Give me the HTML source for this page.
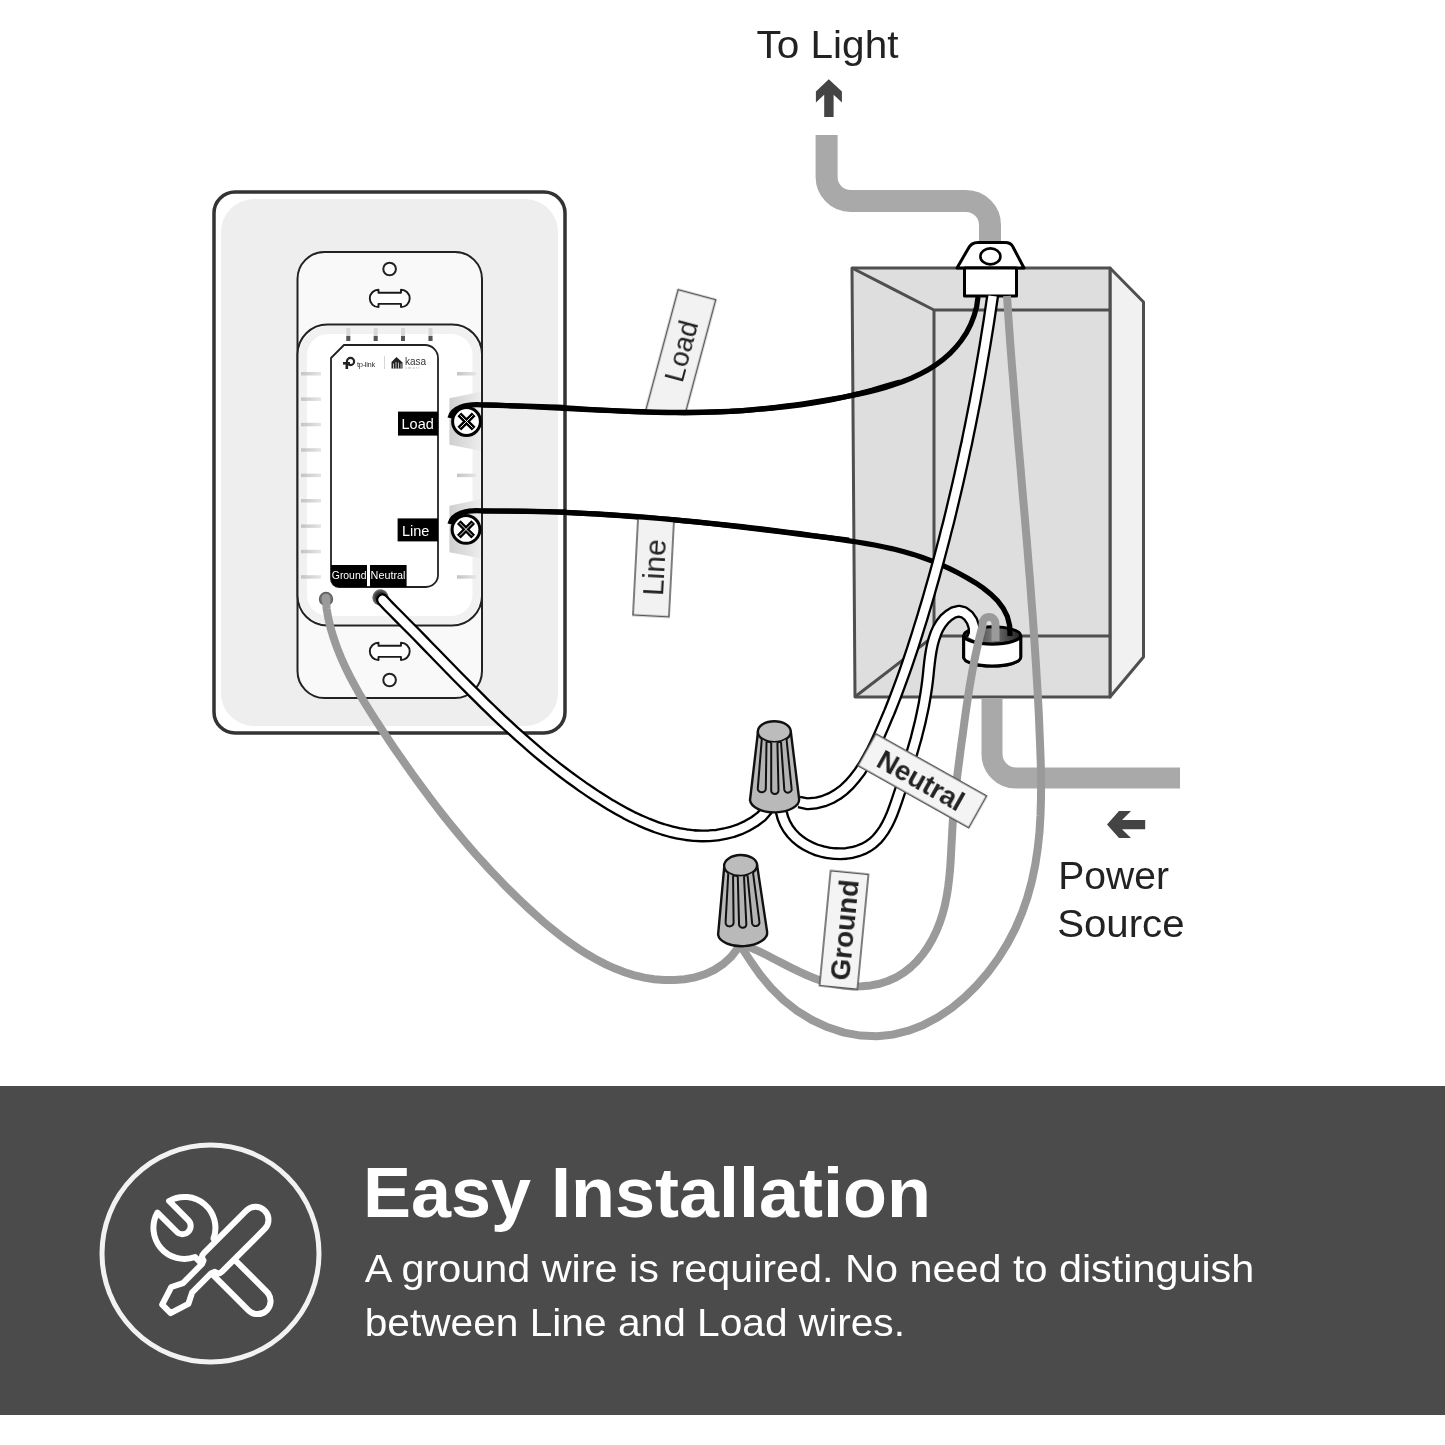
<!DOCTYPE html>
<html>
<head>
<meta charset="utf-8">
<style>
html,body{margin:0;padding:0;background:#fff;}
body{width:1445px;height:1445px;overflow:hidden;position:relative;font-family:"Liberation Sans",sans-serif;}
svg{position:absolute;left:0;top:0;display:block;will-change:transform;}
</style>
</head>
<body>
<svg width="1445" height="1445" viewBox="0 0 1445 1445" font-family="Liberation Sans, sans-serif">
<defs>
  <clipPath id="clipLoad"><rect x="600" y="250" width="150" height="162"/></clipPath>
  <linearGradient id="shade" x1="0" y1="0" x2="1" y2="0">
    <stop offset="0" stop-color="#cfcfcf"/>
    <stop offset="1" stop-color="#ececec"/>
  </linearGradient>
  <linearGradient id="tick" x1="0" y1="0" x2="1" y2="0">
    <stop offset="0" stop-color="#c4c4c4"/>
    <stop offset="1" stop-color="#e6e6e6"/>
  </linearGradient>
  <radialGradient id="holeN" cx="0.5" cy="0.5" r="0.5">
    <stop offset="0.6" stop-color="#333"/>
    <stop offset="1" stop-color="#777"/>
  </radialGradient>
  <radialGradient id="holeG" cx="0.5" cy="0.5" r="0.5">
    <stop offset="0.55" stop-color="#888"/>
    <stop offset="1" stop-color="#555"/>
  </radialGradient>
  <linearGradient id="ringin" x1="0" y1="0" x2="1" y2="0">
    <stop offset="0" stop-color="#222"/>
    <stop offset="0.5" stop-color="#777"/>
    <stop offset="1" stop-color="#222"/>
  </linearGradient>
</defs>

<!-- ===== TOP CONDUIT ===== -->
<path d="M826.6,135 V177 A24,24 0 0 0 850.6,201 H966 A24,24 0 0 1 990,225 V250" fill="none" stroke="#a9a9a9" stroke-width="22"/>

<!-- ===== BOX ===== -->
<g stroke="#4f4f4f" stroke-width="3" stroke-linejoin="round">
  <polygon points="1110,268 1143.5,302 1143.5,657 1110,697" fill="#f1f1f1"/>
  <polygon points="852,268 1110,268 1110,697 855,697" fill="#dedede"/>
  <polyline points="852,268 934,310 1110,310" fill="none"/>
  <polyline points="934,310 934,636" fill="none"/>
  <polyline points="856,696 934,636 1110,636" fill="none"/>
</g>

<!-- bottom conduit -->
<path d="M992,698 V754 A24,24 0 0 0 1016,778 H1180" fill="none" stroke="#a9a9a9" stroke-width="21"/>

<!-- connector top -->
<g stroke="#000" stroke-width="3" stroke-linejoin="round">
  <path d="M957,268 L968,249 Q971,242.5 978,242.5 H1005 Q1011,242.5 1013,247 L1024,268 Z" fill="#fff"/>
  <ellipse cx="990.4" cy="256.4" rx="10" ry="8" fill="#fff" stroke-width="2.6"/>
  <rect x="964.5" y="268" width="52" height="28" fill="#fff"/>
</g>

<!-- ring bottom (back part) -->
<g stroke="#000" stroke-width="3">
  <path d="M963.7,635.5 V657.3 A28.5,8.7 0 0 0 1020.7,657.3 V635.5" fill="#fff"/>
  <ellipse cx="992.2" cy="635.5" rx="28.5" ry="8.7" fill="url(#ringin)"/>
</g>

<!-- wires inside box -->
<!-- load black -->
<path d="M450,418 C452,408 466,403.5 482,404.8 L482.0,404.8 L491.2,404.9 L500.3,405.1 L509.5,405.3 L518.7,405.7 L527.9,406.0 L537.1,406.5 L546.3,406.9 L555.5,407.4 L564.7,407.9 L574.0,408.4 L583.2,409.0 L592.4,409.5 L601.6,410.0 L610.9,410.5 L620.1,411.0 L629.3,411.4 L638.6,411.8 L647.8,412.1 L657.0,412.4 L666.2,412.6 L675.4,412.7 L684.6,412.8 L693.8,412.7 L702.9,412.5 L712.1,412.2 L721.2,411.8 L730.4,411.4 L739.5,410.8 L748.6,410.1 L757.8,409.2 L766.9,408.3 L776.0,407.3 L785.1,406.2 L794.3,405.0 L803.4,403.8 L812.5,402.4 L821.7,400.9 L830.8,399.4 L840.0,397.7 L849.1,396.0 L858.3,394.1 L867.4,392.1 L876.4,389.9 L885.4,387.4 L894.2,384.6 L902.9,381.5 L911.5,378.1 L919.8,374.2 L927.8,369.9 L935.5,365.0 L942.8,359.7 L949.6,353.8 L955.8,347.3 L961.5,340.3 L966.5,332.7 L970.7,324.5 L974.1,315.7 L976.7,306.4 L978.0,297.0" fill="none" stroke="#000" stroke-width="5.2"/>
<!-- line black -->
<path d="M450,524 C452,514 466,509.5 482,510.8 L482.0,510.8 L491.7,510.9 L501.4,511.0 L511.1,511.1 L520.7,511.2 L530.4,511.4 L540.1,511.7 L549.7,512.0 L559.3,512.3 L569.0,512.7 L578.6,513.2 L588.2,513.7 L597.9,514.2 L607.5,514.8 L617.1,515.4 L626.7,516.1 L636.3,516.8 L645.9,517.5 L655.6,518.3 L665.2,519.1 L674.8,519.9 L684.4,520.8 L694.0,521.7 L703.7,522.6 L713.3,523.6 L722.9,524.6 L732.6,525.6 L742.2,526.7 L751.8,527.8 L761.4,528.9 L771.1,530.1 L780.7,531.3 L790.3,532.5 L799.9,533.7 L809.4,535.0 L819.0,536.4 L828.5,537.7 L838.0,539.1 L847.5,540.6 L857.0,542.0 L866.5,543.6 L875.9,545.3 L885.3,547.2 L894.6,549.3 L904.0,551.7 L913.3,554.4 L922.5,557.5 L931.6,560.9 L940.7,564.6 L949.6,568.6 L958.3,573.0 L966.9,577.7 L975.3,582.7 L983.3,588.1 L990.8,594.1 L997.5,600.7 L1003.1,608.1 L1007.3,616.4 L1009.7,625.8 L1010.0,636.0" fill="none" stroke="#000" stroke-width="5.2"/>
<!-- gray 2 from connector -->
<path d="M1007.0,296.0 L1008.1,313.0 L1009.3,329.9 L1010.5,346.8 L1011.8,363.6 L1013.2,380.4 L1014.5,397.2 L1015.9,413.9 L1017.3,430.6 L1018.7,447.3 L1020.2,463.9 L1021.6,480.6 L1023.0,497.2 L1024.5,513.8 L1025.9,530.4 L1027.3,547.0 L1028.6,563.6 L1030.0,580.2 L1031.2,596.8 L1032.5,613.5 L1033.7,630.1 L1034.8,646.8 L1035.9,663.5 L1036.9,680.2 L1037.9,697.0 L1038.8,713.8 L1039.5,730.7 L1040.2,747.6 L1040.8,764.5 L1041.1,781.4 L1041.0,798.4 L1040.5,815.2 L1039.5,832.0 L1037.7,848.6 L1035.2,865.1 L1031.8,881.4 L1027.4,897.4 L1021.9,913.2 L1015.2,928.8 L1007.3,943.9 L998.2,958.5 L988.0,972.4 L976.8,985.4 L964.6,997.4 L951.7,1008.0 L937.9,1017.3 L923.5,1024.9 L908.5,1030.7 L892.9,1034.6 L877.0,1036.3 L860.6,1035.6 L844.1,1032.6 L827.8,1027.3 L812.0,1020.0 L797.1,1010.8 L783.5,1000.1 L771.3,988.1 L760.4,975.1 L750.9,961.6 L742.0,948.0" fill="none" stroke="#9a9a9a" stroke-width="8" stroke-linejoin="round"/>
<!-- white B loop -->
<path d="M972.0,639.0 L974.3,633.8 L974.1,627.5 L972.0,621.2 L968.4,615.8 L963.8,612.3 L958.6,611.2 L953.5,612.5 L948.7,615.5 L944.6,619.2 L941.2,623.4 L938.3,628.1 L936.0,633.1 L934.1,638.6 L932.5,644.3 L931.3,650.2 L930.3,656.4 L929.5,662.6 L928.8,668.9 L928.2,675.1 L927.5,681.3 L926.7,687.4 L925.8,693.4 L924.8,699.3 L923.8,705.1 L922.6,710.8 L921.4,716.5 L920.2,722.1 L918.8,727.7 L917.4,733.2 L916.0,738.8 L914.4,744.3 L912.8,749.9 L911.2,755.4 L909.5,761.0 L907.8,766.6 L906.0,772.3 L904.2,778.0 L902.4,783.8 L900.5,789.7 L898.5,795.7 L896.5,801.7 L894.4,807.7 L892.2,813.6 L889.7,819.3 L887.0,824.8 L884.0,830.0 L880.6,834.8 L876.9,839.2 L872.8,843.0 L868.2,846.3 L863.2,848.9 L857.8,851.0 L852.2,852.5 L846.4,853.4 L840.4,853.8 L834.4,853.6 L828.3,852.9 L822.4,851.6 L816.5,849.9 L810.9,847.6 L805.5,844.8 L800.5,841.5 L795.9,837.7 L791.8,833.5 L788.2,828.8 L785.2,823.6 L782.9,818.0 L781.3,812.0 L780.0,806.0" fill="none" stroke="#000" stroke-width="13" stroke-linejoin="round"/>
<path d="M972.0,639.0 L974.3,633.8 L974.1,627.5 L972.0,621.2 L968.4,615.8 L963.8,612.3 L958.6,611.2 L953.5,612.5 L948.7,615.5 L944.6,619.2 L941.2,623.4 L938.3,628.1 L936.0,633.1 L934.1,638.6 L932.5,644.3 L931.3,650.2 L930.3,656.4 L929.5,662.6 L928.8,668.9 L928.2,675.1 L927.5,681.3 L926.7,687.4 L925.8,693.4 L924.8,699.3 L923.8,705.1 L922.6,710.8 L921.4,716.5 L920.2,722.1 L918.8,727.7 L917.4,733.2 L916.0,738.8 L914.4,744.3 L912.8,749.9 L911.2,755.4 L909.5,761.0 L907.8,766.6 L906.0,772.3 L904.2,778.0 L902.4,783.8 L900.5,789.7 L898.5,795.7 L896.5,801.7 L894.4,807.7 L892.2,813.6 L889.7,819.3 L887.0,824.8 L884.0,830.0 L880.6,834.8 L876.9,839.2 L872.8,843.0 L868.2,846.3 L863.2,848.9 L857.8,851.0 L852.2,852.5 L846.4,853.4 L840.4,853.8 L834.4,853.6 L828.3,852.9 L822.4,851.6 L816.5,849.9 L810.9,847.6 L805.5,844.8 L800.5,841.5 L795.9,837.7 L791.8,833.5 L788.2,828.8 L785.2,823.6 L782.9,818.0 L781.3,812.0 L780.0,806.0" fill="none" stroke="#fff" stroke-width="8.4" stroke-linejoin="round"/>
<!-- white A -->
<path d="M992.6,296.0 L991.4,304.2 L990.2,312.3 L989.0,320.5 L987.7,328.6 L986.4,336.7 L985.1,344.8 L983.7,353.0 L982.3,361.1 L980.9,369.2 L979.5,377.3 L978.0,385.5 L976.5,393.6 L975.0,401.7 L973.4,409.8 L971.8,417.9 L970.2,426.0 L968.5,434.2 L966.9,442.3 L965.1,450.3 L963.4,458.4 L961.6,466.5 L959.8,474.6 L958.0,482.7 L956.1,490.7 L954.2,498.8 L952.3,506.8 L950.4,514.8 L948.4,522.9 L946.3,530.9 L944.3,538.9 L942.2,546.9 L940.1,554.8 L938.0,562.8 L935.8,570.7 L933.6,578.7 L931.3,586.6 L929.1,594.5 L926.8,602.4 L924.4,610.2 L922.1,618.1 L919.6,625.9 L917.2,633.8 L914.7,641.6 L912.2,649.4 L909.6,657.1 L907.0,664.9 L904.3,672.7 L901.5,680.4 L898.6,688.2 L895.7,696.0 L892.7,703.7 L889.6,711.5 L886.3,719.2 L883.0,727.0 L879.6,734.8 L876.0,742.6 L872.3,750.3 L868.3,757.7 L864.1,765.0 L859.6,771.9 L854.7,778.3 L849.5,784.2 L843.9,789.6 L837.8,794.2 L831.1,798.1 L824.0,801.0 L816.2,803.0 L807.8,803.8 L799.0,802.0" fill="none" stroke="#000" stroke-width="13" stroke-linejoin="round"/>
<path d="M992.6,296.0 L991.4,304.2 L990.2,312.3 L989.0,320.5 L987.7,328.6 L986.4,336.7 L985.1,344.8 L983.7,353.0 L982.3,361.1 L980.9,369.2 L979.5,377.3 L978.0,385.5 L976.5,393.6 L975.0,401.7 L973.4,409.8 L971.8,417.9 L970.2,426.0 L968.5,434.2 L966.9,442.3 L965.1,450.3 L963.4,458.4 L961.6,466.5 L959.8,474.6 L958.0,482.7 L956.1,490.7 L954.2,498.8 L952.3,506.8 L950.4,514.8 L948.4,522.9 L946.3,530.9 L944.3,538.9 L942.2,546.9 L940.1,554.8 L938.0,562.8 L935.8,570.7 L933.6,578.7 L931.3,586.6 L929.1,594.5 L926.8,602.4 L924.4,610.2 L922.1,618.1 L919.6,625.9 L917.2,633.8 L914.7,641.6 L912.2,649.4 L909.6,657.1 L907.0,664.9 L904.3,672.7 L901.5,680.4 L898.6,688.2 L895.7,696.0 L892.7,703.7 L889.6,711.5 L886.3,719.2 L883.0,727.0 L879.6,734.8 L876.0,742.6 L872.3,750.3 L868.3,757.7 L864.1,765.0 L859.6,771.9 L854.7,778.3 L849.5,784.2 L843.9,789.6 L837.8,794.2 L831.1,798.1 L824.0,801.0 L816.2,803.0 L807.8,803.8 L799.0,802.0" fill="none" stroke="#fff" stroke-width="8.4" stroke-linejoin="round"/>

<!-- ring front rim -->
<g stroke="#000" stroke-width="3">
  <path d="M963.7,635.5 A28.5,8.7 0 0 0 1020.7,635.5 V657.3 A28.5,8.7 0 0 1 963.7,657.3 Z" fill="#fff"/>
</g>
<!-- gray 1 loop -->
<path d="M995.5,641 L995.5,624 A6.5,7 0 0 0 982.5,624 L982.5,626.0 L980.2,634.8 L978.1,643.5 L976.1,652.4 L974.2,661.3 L972.5,670.2 L970.9,679.2 L969.4,688.2 L968.0,697.2 L966.6,706.2 L965.3,715.2 L964.1,724.2 L962.9,733.2 L961.6,742.2 L960.4,751.1 L959.3,760.0 L958.1,769.0 L957.0,777.9 L956.0,786.8 L955.0,795.8 L954.2,804.8 L953.4,813.8 L952.7,822.9 L952.2,832.1 L951.7,841.3 L951.2,850.5 L950.7,859.7 L950.1,869.0 L949.2,878.1 L948.1,887.3 L946.7,896.3 L944.9,905.2 L942.6,914.0 L939.8,922.6 L936.4,931.1 L932.4,939.3 L927.8,947.1 L922.6,954.5 L916.8,961.3 L910.4,967.5 L903.5,972.9 L896.1,977.4 L888.0,981.0 L879.6,983.7 L870.8,985.4 L861.7,986.3 L852.5,986.4 L843.2,985.6 L834.0,984.1 L825.0,981.9 L816.2,979.0 L807.6,975.5 L799.1,971.7 L790.8,967.6 L782.6,963.4 L774.5,959.2 L766.5,955.0 L758.5,951.1 L750.6,947.6 L742.0,945.0" fill="none" stroke="#9a9a9a" stroke-width="8" stroke-linejoin="round"/>

<!-- ===== WALL PLATE ===== -->
<rect x="214" y="192" width="351" height="541" rx="21" fill="#fff" stroke="#333" stroke-width="3.5"/>
<rect x="221" y="199" width="337" height="527" rx="33" fill="#eeeeee"/>
<!-- switch body -->
<rect x="297.5" y="252" width="184.5" height="446" rx="27" fill="#f9f9f9" stroke="#222" stroke-width="2"/>
<!-- top hole & slot -->
<circle cx="389.6" cy="269" r="6.3" fill="#fff" stroke="#222" stroke-width="2"/>
<path d="M378.5,289.7 V292.8 H401 V289.7 A8.7,8.7 0 0 1 401,307.1 V303.9 H378.5 V307.1 A8.7,8.7 0 0 1 378.5,289.7 Z" fill="#fff" stroke="#1a1a1a" stroke-width="1.9" stroke-linejoin="round"/>
<path d="M378.5,642.7 V645.8 H401 V642.7 A8.7,8.7 0 0 1 401,660.1 V656.9 H378.5 V660.1 A8.7,8.7 0 0 1 378.5,642.7 Z" fill="#fff" stroke="#1a1a1a" stroke-width="1.9" stroke-linejoin="round"/>
<circle cx="389.6" cy="680" r="6.3" fill="#fff" stroke="#222" stroke-width="2"/>
<!-- inner frame -->
<rect x="297.5" y="324.5" width="184.5" height="301" rx="30" fill="#fff" stroke="#222" stroke-width="2"/>
<rect x="303" y="330" width="173.5" height="290" rx="25" fill="none" stroke="#f1f1f1" stroke-width="8"/>
<!-- LED ticks -->
<g>
  <rect x="346.3" y="328" width="4" height="13" fill="#d8d8d8"/><rect x="346.3" y="336" width="4" height="5" fill="#555"/>
  <rect x="373.7" y="328" width="4" height="13" fill="#d8d8d8"/><rect x="373.7" y="336" width="4" height="5" fill="#555"/>
  <rect x="401" y="328" width="4" height="13" fill="#d8d8d8"/><rect x="401" y="336" width="4" height="5" fill="#555"/>
  <rect x="428.5" y="328" width="4" height="13" fill="#d8d8d8"/><rect x="428.5" y="336" width="4" height="5" fill="#555"/>
</g>
<!-- side ticks -->
<g fill="url(#tick)">
  <rect x="301" y="372" width="20" height="3.5"/>
  <rect x="301" y="397.4" width="20" height="3.5"/>
  <rect x="301" y="422.8" width="20" height="3.5"/>
  <rect x="301" y="448.2" width="20" height="3.5"/>
  <rect x="301" y="473.6" width="20" height="3.5"/>
  <rect x="301" y="499" width="20" height="3.5"/>
  <rect x="301" y="524.4" width="20" height="3.5"/>
  <rect x="301" y="549.8" width="20" height="3.5"/>
  <rect x="301" y="575.2" width="20" height="3.5"/>
  <rect x="457" y="372" width="19" height="3.5"/>
  <rect x="457" y="473.6" width="19" height="3.5"/>
  <rect x="457" y="575.2" width="19" height="3.5"/>
</g>
<!-- screw shading -->
<polygon points="449.4,398.3 480.6,391.8 480.6,450.8 449.4,444.7" fill="url(#shade)"/>
<polygon points="449.4,505.8 480.6,499.3 480.6,558.3 449.4,552.2" fill="url(#shade)"/>
<!-- label panel -->
<path d="M331,358 L344,345 H425 A13,13 0 0 1 438,358 V575 A12,12 0 0 1 426,587 H339 A8,8 0 0 1 331,579 Z" fill="#fff" stroke="#222" stroke-width="1.8"/>
<!-- logo -->
<g>
  <circle cx="350.5" cy="361.5" r="3.6" fill="none" stroke="#222" stroke-width="2.2"/>
  <rect x="343" y="362" width="7" height="2.6" fill="#222"/>
  <rect x="345.5" y="362" width="2.6" height="7" fill="#222"/>
  <text x="357" y="366.5" font-size="7.5" fill="#333" letter-spacing="-0.3">tp-link</text>
  <rect x="384" y="356" width="0.8" height="13" fill="#ccc"/>
  <path d="M391.5,368.5 V362 L396.5,357 L402.5,362.5 V368.5 Z" fill="#222"/>
  <path d="M393.5,368.5 V363.5 M396,368.5 V362 M398.5,368.5 V362.5 M401,368.5 V363.5" stroke="#fff" stroke-width="0.7"/>
  <text x="405" y="364.5" font-size="10" fill="#333">kasa</text>
  <text x="405.5" y="369" font-size="3" fill="#999" letter-spacing="1.6">smart</text>
</g>
<!-- labels -->
<rect x="398" y="411.6" width="40" height="24" fill="#000"/>
<text x="401.5" y="428.7" font-size="14.5" fill="#fff">Load</text>
<rect x="397.6" y="518.4" width="40.4" height="23" fill="#000"/>
<text x="402" y="535.7" font-size="14.5" fill="#fff">Line</text>
<path d="M331,565 H367 V587 H339 A8,8 0 0 1 331,579 Z" fill="#000"/>
<text x="331.8" y="579" font-size="10.4" fill="#fff">Ground</text>
<rect x="370" y="565" width="36.6" height="22" fill="#000"/>
<text x="370.6" y="579" font-size="10.8" fill="#fff">Neutral</text>
<!-- wire holes -->
<circle cx="326" cy="599" r="7.2" fill="url(#holeG)"/>
<circle cx="380.5" cy="597.5" r="8.2" fill="url(#holeN)"/>

<!-- wire around screws (redraw start over shading) -->
<path d="M450,418 C452,408 466,403.5 482,404.8 C520,406 545,406.5 566,407.5" fill="none" stroke="#000" stroke-width="5.2"/>
<path d="M450,524 C452,514 466,509.5 482,510.8 C520,511 545,511.5 566,512" fill="none" stroke="#000" stroke-width="5.2"/>
<!-- screws -->
<g>
  <circle cx="466.5" cy="421.5" r="13.9" fill="#fff" stroke="#000" stroke-width="3"/>
  <path d="M459.3,414.3 L473.7,428.7 M473.7,414.3 L459.3,428.7" stroke="#000" stroke-width="5.2"/>
  <path d="M460.3,415.3 L472.7,427.7 M472.7,415.3 L460.3,427.7" stroke="#fff" stroke-width="0.9"/>
  <circle cx="466" cy="529.4" r="13.9" fill="#fff" stroke="#000" stroke-width="3"/>
  <path d="M458.8,522.2 L473.2,536.6 M473.2,522.2 L458.8,536.6" stroke="#000" stroke-width="5.2"/>
  <path d="M459.8,523.2 L472.2,535.6 M472.2,523.2 L459.8,535.6" stroke="#fff" stroke-width="0.9"/>
</g>

<!-- wires from switch -->
<path d="M326.0,598.0 L326.6,608.6 L328.4,618.6 L330.8,628.6 L333.8,638.4 L337.2,648.2 L341.1,657.8 L345.4,667.4 L350.1,676.8 L355.1,686.2 L360.3,695.4 L365.8,704.5 L371.5,713.6 L377.2,722.6 L383.1,731.4 L388.9,740.2 L394.8,748.9 L400.8,757.5 L406.7,766.1 L412.7,774.5 L418.8,782.9 L424.9,791.2 L431.0,799.4 L437.3,807.6 L443.6,815.7 L450.0,823.7 L456.5,831.6 L463.0,839.5 L469.7,847.4 L476.5,855.1 L483.5,862.8 L490.5,870.5 L497.8,878.1 L505.1,885.7 L512.6,893.2 L520.3,900.6 L528.1,908.0 L536.1,915.3 L544.2,922.5 L552.6,929.4 L561.0,936.1 L569.7,942.5 L578.4,948.6 L587.4,954.3 L596.5,959.6 L605.7,964.3 L615.1,968.6 L624.6,972.2 L634.3,975.3 L644.1,977.6 L654.1,979.2 L664.2,980.1 L674.4,980.1 L684.7,979.3 L694.9,977.4 L704.8,974.3 L714.3,969.9 L723.1,964.1 L731.2,956.7 L738.0,948.0" fill="none" stroke="#9a9a9a" stroke-width="8" stroke-linecap="round"/>
<path d="M382.5,599.8 L387.9,605.7 L393.7,611.5 L399.5,617.3 L405.3,623.2 L411.1,629.0 L416.8,634.8 L422.5,640.6 L428.1,646.4 L433.8,652.2 L439.4,658.0 L445.0,663.7 L450.6,669.5 L456.2,675.2 L461.9,681.0 L467.5,686.6 L473.2,692.3 L478.8,697.9 L484.5,703.6 L490.2,709.1 L496.0,714.7 L501.8,720.2 L507.6,725.6 L513.5,731.0 L519.5,736.4 L525.5,741.7 L531.6,747.0 L537.7,752.2 L543.9,757.4 L550.2,762.5 L556.5,767.5 L563.0,772.5 L569.5,777.4 L576.2,782.2 L582.9,787.0 L589.8,791.7 L596.7,796.3 L603.8,800.8 L610.9,805.2 L618.2,809.4 L625.5,813.4 L632.9,817.2 L640.4,820.7 L647.9,823.9 L655.5,826.9 L663.1,829.4 L670.7,831.6 L678.4,833.4 L686.2,834.7 L693.9,835.6 L701.7,835.9 L709.4,835.8 L717.2,835.1 L724.9,833.7 L732.6,831.8 L740.2,829.1 L747.5,825.7 L754.6,821.5 L761.4,816.4 L767.0,810.0" fill="none" stroke="#000" stroke-width="13" stroke-linecap="round" stroke-linejoin="round"/>
<path d="M382.5,599.8 L387.9,605.7 L393.7,611.5 L399.5,617.3 L405.3,623.2 L411.1,629.0 L416.8,634.8 L422.5,640.6 L428.1,646.4 L433.8,652.2 L439.4,658.0 L445.0,663.7 L450.6,669.5 L456.2,675.2 L461.9,681.0 L467.5,686.6 L473.2,692.3 L478.8,697.9 L484.5,703.6 L490.2,709.1 L496.0,714.7 L501.8,720.2 L507.6,725.6 L513.5,731.0 L519.5,736.4 L525.5,741.7 L531.6,747.0 L537.7,752.2 L543.9,757.4 L550.2,762.5 L556.5,767.5 L563.0,772.5 L569.5,777.4 L576.2,782.2 L582.9,787.0 L589.8,791.7 L596.7,796.3 L603.8,800.8 L610.9,805.2 L618.2,809.4 L625.5,813.4 L632.9,817.2 L640.4,820.7 L647.9,823.9 L655.5,826.9 L663.1,829.4 L670.7,831.6 L678.4,833.4 L686.2,834.7 L693.9,835.6 L701.7,835.9 L709.4,835.8 L717.2,835.1 L724.9,833.7 L732.6,831.8 L740.2,829.1 L747.5,825.7 L754.6,821.5 L761.4,816.4 L767.0,810.0" fill="none" stroke="#fff" stroke-width="8.4" stroke-linecap="round" stroke-linejoin="round"/>

<!-- ===== WIRE NUTS ===== -->
<g id="nut1" transform="translate(774.3,731.7)" stroke="#111" stroke-width="2.4" stroke-linejoin="round">
  <path d="M-16.3,0 L-24.3,68.5 A24.3,12.8 0 0 0 24.8,67 L16.5,0 Z" fill="#b9b9b9"/>
  <ellipse cx="0" cy="0" rx="16.5" ry="10.5" fill="#bcbcbc"/>
  <g fill="#b3b3b3" stroke-width="2">
    <path d="M-12.5,7.3 L-16.5,56.5 A4,3.6 0 0 0 -8.5,57.4 L-7.8,10.2"/>
    <path d="M-3.1,10.9 L-3.1,58.9 A3.6,3.4 0 0 0 4.2,58.9 L3.1,10.9"/>
    <path d="M6.7,10.3 L10,58.2 A3.6,3.4 0 0 0 17.3,56.7 L12.2,7.3"/>
  </g>
</g>
<g transform="translate(740.6,865.5) rotate(-1.5)" stroke="#111" stroke-width="2.4" stroke-linejoin="round">
  <path d="M-16.3,0 L-24.3,68.5 A24.3,12.8 0 0 0 24.8,67 L16.5,0 Z" fill="#b9b9b9"/>
  <ellipse cx="0" cy="0" rx="16.5" ry="10.5" fill="#bcbcbc"/>
  <g fill="#b3b3b3" stroke-width="2">
    <path d="M-12.5,7.3 L-16.5,56.5 A4,3.6 0 0 0 -8.5,57.4 L-7.8,10.2"/>
    <path d="M-3.1,10.9 L-3.1,58.9 A3.6,3.4 0 0 0 4.2,58.9 L3.1,10.9"/>
    <path d="M6.7,10.3 L10,58.2 A3.6,3.4 0 0 0 17.3,56.7 L12.2,7.3"/>
  </g>
</g>

<!-- ===== TAGS ===== -->
<g clip-path="url(#clipLoad)"><g transform="translate(680.5,356) rotate(-75)">
  <rect x="-63.5" y="-19.5" width="127" height="39" fill="#f2f2f2" stroke="#555" stroke-width="1.5"/>
  <text x="5" y="8.5" font-size="28" fill="#222" text-anchor="middle">Load</text>
</g></g>
<g transform="translate(653.5,567.5) rotate(-87)">
  <rect x="-48.5" y="-18" width="97" height="36" fill="#f2f2f2" stroke="#555" stroke-width="1.5"/>
  <text x="0" y="11" font-size="30" fill="#222" text-anchor="middle">Line</text>
</g>
<g transform="translate(922.3,780.8) rotate(29.3)">
  <rect x="-63.5" y="-18.3" width="127" height="36.6" fill="#f4f4f4" stroke="#555" stroke-width="1.5"/>
  <text x="-1.5" y="9.5" font-size="27.5" font-weight="bold" fill="#222" text-anchor="middle">Neutral</text>
</g>
<g transform="translate(844,930) rotate(-84.5)">
  <rect x="-57.7" y="-19" width="115.4" height="38" fill="#f4f4f4" stroke="#555" stroke-width="1.5"/>
  <text x="0" y="10" font-size="28" font-weight="bold" fill="#222" text-anchor="middle">Ground</text>
</g>

<path d="M482.0,404.8 L496.5,405.2 L510.9,405.8 L525.4,406.5 L539.9,407.2 L554.4,407.9 L568.9,408.7 L583.5,409.4 L598.0,410.1 L612.5,410.7 L627.1,411.3 L641.6,411.7 L656.2,412.1 L670.7,412.3 L685.2,412.3 L699.7,412.2 L714.2,411.9 L728.7,411.3 L743.2,410.6 L757.6,409.5 L772.0,408.2 L786.4,406.7 L800.8,404.8 L815.1,402.6 L829.4,400.1 L843.6,397.2 L857.8,393.9 L871.9,390.2 L886.0,386.1 L900.0,382.0" fill="none" stroke="#000" stroke-width="5.2"/>
<path d="M482.0,510.8 L494.7,511.0 L507.4,511.0 L520.2,511.2 L532.9,511.4 L545.6,511.7 L558.3,512.2 L571.0,512.7 L583.7,513.3 L596.3,513.9 L609.0,514.7 L621.7,515.5 L634.3,516.4 L647.0,517.4 L659.7,518.5 L672.3,519.6 L684.9,520.9 L697.6,522.1 L710.2,523.5 L722.8,524.9 L735.5,526.3 L748.1,527.8 L760.7,529.4 L773.3,530.9 L785.9,532.5 L798.5,534.1 L811.1,535.6 L823.7,537.2 L836.4,538.7 L849.0,540.0" fill="none" stroke="#000" stroke-width="5.2"/>

<!-- ===== TEXTS / ARROWS ===== -->
<text x="756.6" y="57.6" font-size="38.7" fill="#222" textLength="141.8" lengthAdjust="spacingAndGlyphs">To Light</text>
<path d="M828.8,79.2 L841.9,91.4 V102.5 L833.6,94.7 V116.9 H824.2 V94.7 L815.9,102.5 V91.4 Z" fill="#444"/>
<text x="1058.3" y="888.6" font-size="38" fill="#222" textLength="110.7" lengthAdjust="spacingAndGlyphs">Power</text>
<text x="1057.2" y="936.8" font-size="38" fill="#222" textLength="127.3" lengthAdjust="spacingAndGlyphs">Source</text>
<path d="M1107,824.4 L1119,811 H1131 L1122,820 H1145.2 V829.3 H1122 L1131,838 H1119 Z" fill="#444"/>

<!-- ===== BOTTOM BAND ===== -->
<rect x="0" y="1086" width="1445" height="329" fill="#4b4b4b"/>
<circle cx="210.5" cy="1253.5" r="108.5" fill="none" stroke="#f2f2f2" stroke-width="5"/>
<g fill="#4b4b4b" stroke="#fff" stroke-width="6" stroke-linejoin="round">
  <path transform="translate(215.9,1259.4) rotate(45)" d="M-16.36,-13 L59,-13 A13,13 0 0 1 59,13 L-16.36,13 A31,31 0 0 1 -74.4,8.2 L-47.3,8.2 A8.2,8.2 0 0 0 -47.3,-8.2 L-74.4,-8.2 A31,31 0 0 1 -16.36,-13 Z"/>
  <path transform="translate(215.9,1259.4) rotate(135)" d="M4,13 L-56,13 A13,13 0 0 1 -56,-13 L4,-13 Q9,-13 9.5,-8 L13,-6.5 L40,-6.5 L51,-12 L70,-6 L70,6 L51,12 L40,6.5 L13,6.5 L9.5,8 Q9,13 4,13 Z"/>
</g>
<text x="363" y="1217" font-size="71" font-weight="bold" fill="#fff" textLength="568" lengthAdjust="spacingAndGlyphs">Easy Installation</text>
<text x="364.7" y="1282.2" font-size="39" fill="#fff" textLength="889.6" lengthAdjust="spacingAndGlyphs">A ground wire is required. No need to distinguish</text>
<text x="364.7" y="1335.5" font-size="39" fill="#fff" textLength="540.3" lengthAdjust="spacingAndGlyphs">between Line and Load wires.</text>
</svg>
</body>
</html>
